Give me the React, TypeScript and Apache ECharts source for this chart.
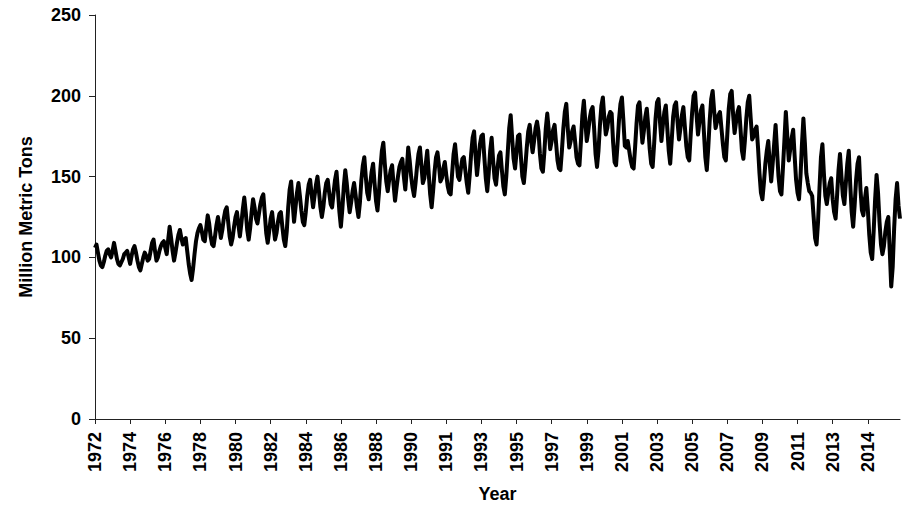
import React, { useEffect, useRef } from "react";
import * as echarts from "echarts";

// Tick labels shown every 24 months along the category axis
const TICK_LABELS: string[] = [
  "1972", "1974", "1976", "1978", "1980", "1982", "1984", "1986", "1988", "1990", "1991", "1993",
  "1995", "1997", "1999", "2001", "2003", "2005", "2007", "2009", "2011", "2013", "2014",
];
const TICK_EVERY = 24;

// Monthly values (million metric tons), one row per 12 months
const ROW_00 = [106, 108, 103, 98, 95, 94, 97, 101, 104, 105, 102, 100];
const ROW_01 = [104, 109, 104, 99, 96, 95, 97, 99, 102, 103, 104, 100];
const ROW_02 = [96, 101, 105, 107, 103, 98, 94, 92, 96, 100, 103, 101];
const ROW_03 = [98, 99, 104, 109, 111, 104, 98, 100, 104, 107, 109, 110];
const ROW_04 = [106, 102, 111, 119, 112, 104, 98, 103, 109, 114, 117, 112];
const ROW_05 = [108, 111, 112, 104, 96, 90, 86, 93, 102, 110, 115, 118];
const ROW_06 = [120, 116, 111, 110, 118, 126, 121, 113, 108, 107, 113, 120];
const ROW_07 = [125, 119, 112, 117, 124, 129, 131, 122, 113, 108, 112, 119];
const ROW_08 = [125, 128, 120, 113, 121, 130, 137, 128, 117, 111, 118, 128];
const ROW_09 = [136, 131, 124, 121, 127, 133, 137, 139, 127, 115, 109, 116];
const ROW_10 = [124, 128, 119, 111, 115, 122, 127, 128, 119, 111, 107, 116];
const ROW_11 = [131, 142, 147, 134, 122, 131, 140, 146, 138, 129, 122, 120];
const ROW_12 = [128, 138, 145, 148, 139, 131, 138, 145, 150, 141, 131, 125];
const ROW_13 = [131, 140, 146, 148, 140, 133, 131, 140, 148, 153, 141, 128];
const ROW_14 = [119, 130, 144, 154, 146, 136, 128, 134, 141, 146, 139, 131];
const ROW_15 = [125, 134, 148, 157, 162, 150, 140, 136, 145, 153, 158, 146];
const ROW_16 = [135, 129, 140, 155, 166, 171, 158, 147, 141, 148, 154, 157];
const ROW_17 = [145, 135, 143, 150, 156, 159, 161, 150, 142, 154, 168, 160];
const ROW_18 = [150, 143, 138, 146, 156, 164, 168, 157, 146, 149, 158, 166];
const ROW_19 = [152, 139, 131, 141, 153, 162, 165, 157, 147, 149, 155, 159];
const ROW_20 = [151, 144, 140, 139, 152, 164, 170, 160, 150, 148, 155, 161];
const ROW_21 = [162, 154, 146, 140, 151, 164, 174, 178, 163, 151, 160, 170];
const ROW_22 = [175, 176, 162, 149, 141, 152, 166, 174, 160, 149, 145, 155];
const ROW_23 = [163, 165, 154, 144, 139, 150, 165, 180, 188, 174, 161, 155];
const ROW_24 = [165, 175, 176, 162, 150, 146, 156, 168, 178, 182, 172, 165];
const ROW_25 = [172, 180, 184, 178, 164, 155, 153, 165, 180, 189, 179, 167];
const ROW_26 = [172, 179, 182, 171, 160, 155, 154, 166, 180, 190, 195, 180];
const ROW_27 = [168, 172, 178, 181, 172, 162, 158, 157, 172, 188, 197, 184];
const ROW_28 = [172, 178, 186, 191, 193, 180, 164, 156, 166, 182, 194, 199];
const ROW_29 = [186, 176, 180, 187, 190, 189, 171, 159, 157, 170, 185, 195];
const ROW_30 = [199, 185, 169, 168, 172, 166, 160, 156, 155, 168, 183, 194];
const ROW_31 = [196, 183, 171, 178, 187, 192, 181, 167, 158, 156, 170, 186];
const ROW_32 = [196, 198, 184, 172, 182, 190, 194, 180, 166, 158, 172, 187];
const ROW_33 = [194, 196, 184, 173, 180, 188, 193, 181, 169, 162, 160, 176];
const ROW_34 = [190, 200, 202, 188, 176, 184, 191, 194, 178, 162, 154, 168];
const ROW_35 = [185, 198, 203, 191, 180, 184, 188, 190, 180, 170, 162, 160];
const ROW_36 = [176, 192, 201, 203, 188, 177, 184, 190, 193, 180, 166, 161];
const ROW_37 = [172, 186, 196, 200, 186, 173, 175, 179, 181, 168, 152, 140];
const ROW_38 = [136, 146, 158, 166, 172, 158, 147, 158, 170, 182, 166, 150];
const ROW_39 = [141, 139, 155, 172, 190, 175, 160, 167, 174, 179, 163, 148];
const ROW_40 = [140, 136, 150, 170, 186, 171, 152, 146, 141, 140, 138, 125];
const ROW_41 = [112, 108, 122, 143, 162, 170, 152, 138, 133, 140, 146, 149];
const ROW_42 = [136, 128, 124, 138, 154, 164, 150, 138, 133, 146, 158, 166];
const ROW_43 = [145, 128, 119, 132, 148, 158, 162, 142, 129, 126, 136, 143];
const ROW_44 = [130, 114, 103, 99, 116, 136, 151, 140, 122, 108, 102, 107];
const ROW_45 = [116, 122, 125, 104, 82, 94, 118, 136, 146, 132, 124];

const VALUES: number[] = [
  ...ROW_00, ...ROW_01, ...ROW_02, ...ROW_03, ...ROW_04, ...ROW_05, ...ROW_06, ...ROW_07,
  ...ROW_08, ...ROW_09, ...ROW_10, ...ROW_11, ...ROW_12, ...ROW_13, ...ROW_14, ...ROW_15,
  ...ROW_16, ...ROW_17, ...ROW_18, ...ROW_19, ...ROW_20, ...ROW_21, ...ROW_22, ...ROW_23,
  ...ROW_24, ...ROW_25, ...ROW_26, ...ROW_27, ...ROW_28, ...ROW_29, ...ROW_30, ...ROW_31,
  ...ROW_32, ...ROW_33, ...ROW_34, ...ROW_35, ...ROW_36, ...ROW_37, ...ROW_38, ...ROW_39,
  ...ROW_40, ...ROW_41, ...ROW_42, ...ROW_43, ...ROW_44, ...ROW_45,
];

const FONT = "'Liberation Sans', Arial, Helvetica, sans-serif";

export default function App() {
  const ref = useRef<HTMLDivElement>(null);

  useEffect(() => {
    if (!ref.current) return;
    const chart = echarts.init(ref.current, null, { renderer: "svg" });
    const categories = VALUES.map((_, i) => String(i));
    chart.setOption({
      animation: false,
      backgroundColor: "#ffffff",
      grid: { left: 95, right: 7, top: 15, bottom: 87, containLabel: false },
      xAxis: {
        type: "category",
        data: categories,
        boundaryGap: false,
        name: "Year",
        nameLocation: "middle",
        nameGap: 66,
        nameTextStyle: { fontFamily: FONT, fontWeight: "bold", fontSize: 18, color: "#000" },
        axisLine: { show: true, lineStyle: { color: "#222", width: 1 } },
        axisTick: { show: true, interval: TICK_EVERY - 1, length: 5, lineStyle: { color: "#222" } },
        axisLabel: {
          interval: TICK_EVERY - 1,
          rotate: 90,
          margin: 13,
          fontFamily: FONT,
          fontWeight: "bold",
          fontSize: 18,
          color: "#000",
          formatter: (_v: string, idx: number) =>
            idx % TICK_EVERY === 0 ? TICK_LABELS[idx / TICK_EVERY] ?? "" : "",
        },
        splitLine: { show: false },
      },
      yAxis: {
        type: "value",
        min: 0,
        max: 250,
        interval: 50,
        name: "Million Metric Tons",
        nameLocation: "middle",
        nameGap: 60,
        nameRotate: 90,
        nameTextStyle: { fontFamily: FONT, fontWeight: "bold", fontSize: 18, color: "#000" },
        axisLine: { show: true, lineStyle: { color: "#222", width: 1 } },
        axisTick: { show: true, length: 6, lineStyle: { color: "#222" } },
        axisLabel: {
          margin: 14,
          fontFamily: FONT,
          fontWeight: "bold",
          fontSize: 18,
          color: "#000",
        },
        splitLine: { show: false },
      },
      series: [
        {
          type: "line",
          data: VALUES,
          showSymbol: false,
          symbol: "none",
          lineStyle: { color: "#000", width: 4, join: "round" },
          silent: true,
        },
      ],
    });
    return () => chart.dispose();
  }, []);

  return (
    <div
      ref={ref}
      style={{ position: "fixed", left: 0, top: 0, width: 907, height: 508, background: "#fff" }}
    />
  );
}
